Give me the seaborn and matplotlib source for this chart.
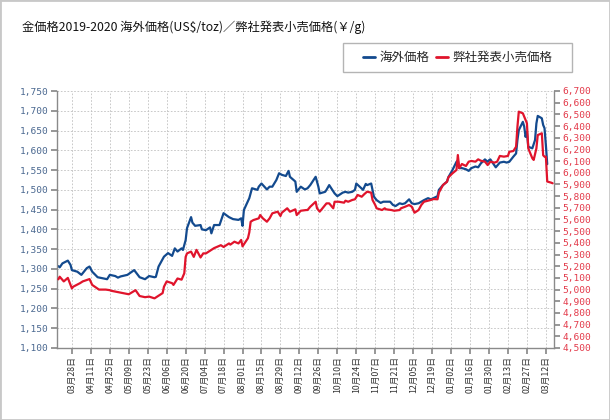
"""Gold price 2019-2020: overseas USD/toz vs. retail JPY/g on twin axes."""

import matplotlib
matplotlib.use("Agg")
import matplotlib.pyplot as plt
import pandas as pd
import seaborn as sns
from matplotlib.lines import Line2D
from matplotlib.patches import Rectangle
from matplotlib.ticker import FuncFormatter, MultipleLocator


TITLE = "金価格2019-2020 海外価格(US$/toz)／弊社発表小売価格(￥/g)"
USD_LABEL = "海外価格"
JPY_LABEL = "弊社発表小売価格"

usd_dates = [
    "2019-03-18", "2019-03-19", "2019-03-21", "2019-03-25", "2019-03-27", "2019-03-28",
    "2019-04-01", "2019-04-04", "2019-04-08", "2019-04-10", "2019-04-12", "2019-04-16",
    "2019-04-23", "2019-04-25", "2019-04-29", "2019-05-01", "2019-05-03", "2019-05-08",
    "2019-05-13", "2019-05-17", "2019-05-21", "2019-05-24", "2019-05-28", "2019-05-29",
    "2019-05-31", "2019-06-04", "2019-06-07", "2019-06-10", "2019-06-12", "2019-06-14",
    "2019-06-17", "2019-06-18", "2019-06-20", "2019-06-21", "2019-06-24", "2019-06-25",
    "2019-06-27", "2019-07-01", "2019-07-02", "2019-07-05", "2019-07-08", "2019-07-09",
    "2019-07-11", "2019-07-15", "2019-07-18", "2019-07-22", "2019-07-25", "2019-07-29",
    "2019-07-31", "2019-08-01", "2019-08-02", "2019-08-06", "2019-08-08", "2019-08-12",
    "2019-08-13", "2019-08-15", "2019-08-19", "2019-08-21", "2019-08-23", "2019-08-26",
    "2019-08-28", "2019-08-30", "2019-09-02", "2019-09-04", "2019-09-05", "2019-09-09",
    "2019-09-10", "2019-09-13", "2019-09-16", "2019-09-18", "2019-09-20", "2019-09-24",
    "2019-09-26", "2019-09-27", "2019-10-01", "2019-10-02", "2019-10-04", "2019-10-08",
    "2019-10-10", "2019-10-14", "2019-10-16", "2019-10-18", "2019-10-21", "2019-10-23",
    "2019-10-24", "2019-10-28", "2019-10-29", "2019-10-31", "2019-11-01", "2019-11-04",
    "2019-11-05", "2019-11-06", "2019-11-08", "2019-11-11", "2019-11-13", "2019-11-15",
    "2019-11-18", "2019-11-20", "2019-11-22", "2019-11-25", "2019-11-27", "2019-11-29",
    "2019-12-02", "2019-12-04", "2019-12-06", "2019-12-09", "2019-12-11", "2019-12-13",
    "2019-12-16", "2019-12-18", "2019-12-20", "2019-12-23", "2019-12-24", "2019-12-27",
    "2019-12-30", "2019-12-31", "2020-01-03", "2020-01-06", "2020-01-07", "2020-01-08",
    "2020-01-10", "2020-01-13", "2020-01-15", "2020-01-17", "2020-01-20", "2020-01-22",
    "2020-01-24", "2020-01-27", "2020-01-29", "2020-01-30", "2020-01-31", "2020-02-04",
    "2020-02-07", "2020-02-10", "2020-02-12", "2020-02-14", "2020-02-17", "2020-02-19",
    "2020-02-20", "2020-02-21", "2020-02-24", "2020-02-25", "2020-02-26", "2020-02-27",
    "2020-02-28", "2020-03-02", "2020-03-04", "2020-03-05", "2020-03-06", "2020-03-09",
    "2020-03-10", "2020-03-11", "2020-03-12", "2020-03-13",
]
usd_values = [
    1307, 1304, 1314, 1321, 1310, 1297,
    1293, 1285, 1302, 1306, 1293, 1279,
    1274, 1285, 1282, 1278, 1281, 1285,
    1297, 1279, 1274, 1282, 1279, 1280,
    1306, 1331, 1340, 1333, 1352, 1344,
    1352, 1348, 1373, 1403, 1431, 1417,
    1409, 1411, 1400, 1398, 1405, 1390,
    1411, 1411, 1441, 1431, 1426, 1424,
    1428, 1409, 1449, 1479, 1504, 1500,
    1508, 1516, 1501, 1508, 1508, 1525,
    1542, 1538, 1535, 1548, 1533, 1521,
    1495, 1508, 1501, 1504, 1512, 1533,
    1508, 1491, 1495, 1500, 1512, 1491,
    1484, 1493, 1495, 1493, 1495, 1500,
    1516, 1503, 1500, 1515, 1512, 1516,
    1500, 1483, 1474, 1467, 1470, 1470,
    1470, 1462, 1459, 1466, 1464, 1466,
    1476, 1466, 1464, 1466, 1470, 1474,
    1479, 1476, 1479, 1484, 1500, 1512,
    1521, 1532, 1550, 1571, 1574, 1555,
    1555, 1552, 1548, 1555, 1559, 1557,
    1567, 1577, 1571, 1575, 1577, 1557,
    1569, 1571, 1569, 1571, 1584, 1592,
    1626, 1651, 1672, 1660, 1634, 1647,
    1609, 1605, 1626, 1668, 1687, 1681,
    1664, 1656, 1613, 1565,
]

jpy_dates = [
    "2019-03-18", "2019-03-19", "2019-03-22", "2019-03-25", "2019-03-28", "2019-03-29",
    "2019-04-03", "2019-04-05", "2019-04-10", "2019-04-12", "2019-04-17", "2019-04-22",
    "2019-04-25", "2019-04-26", "2019-05-07", "2019-05-09", "2019-05-14", "2019-05-17",
    "2019-05-21", "2019-05-24", "2019-05-28", "2019-05-30", "2019-06-03", "2019-06-04",
    "2019-06-06", "2019-06-10", "2019-06-11", "2019-06-14", "2019-06-17", "2019-06-19",
    "2019-06-20", "2019-06-21", "2019-06-24", "2019-06-26", "2019-06-28", "2019-07-01",
    "2019-07-03", "2019-07-05", "2019-07-09", "2019-07-11", "2019-07-12", "2019-07-16",
    "2019-07-18", "2019-07-22", "2019-07-23", "2019-07-26", "2019-07-29", "2019-07-31",
    "2019-08-01", "2019-08-05", "2019-08-06", "2019-08-07", "2019-08-09", "2019-08-13",
    "2019-08-14", "2019-08-16", "2019-08-19", "2019-08-21", "2019-08-23", "2019-08-27",
    "2019-08-29", "2019-08-30", "2019-09-03", "2019-09-05", "2019-09-09", "2019-09-10",
    "2019-09-13", "2019-09-17", "2019-09-18", "2019-09-20", "2019-09-24", "2019-09-25",
    "2019-09-27", "2019-09-30", "2019-10-02", "2019-10-04", "2019-10-07", "2019-10-08",
    "2019-10-11", "2019-10-15", "2019-10-16", "2019-10-18", "2019-10-21", "2019-10-23",
    "2019-10-25", "2019-10-28", "2019-10-30", "2019-11-01", "2019-11-04", "2019-11-05",
    "2019-11-07", "2019-11-08", "2019-11-12", "2019-11-14", "2019-11-15", "2019-11-19",
    "2019-11-21", "2019-11-25", "2019-11-26", "2019-11-29", "2019-12-02", "2019-12-04",
    "2019-12-06", "2019-12-09", "2019-12-11", "2019-12-13", "2019-12-16", "2019-12-18",
    "2019-12-20", "2019-12-23", "2019-12-24", "2019-12-27", "2019-12-30", "2019-12-31",
    "2020-01-03", "2020-01-06", "2020-01-07", "2020-01-08", "2020-01-10", "2020-01-13",
    "2020-01-15", "2020-01-17", "2020-01-20", "2020-01-22", "2020-01-24", "2020-01-27",
    "2020-01-29", "2020-01-31", "2020-02-03", "2020-02-05", "2020-02-07", "2020-02-10",
    "2020-02-13", "2020-02-14", "2020-02-17", "2020-02-19", "2020-02-20", "2020-02-21",
    "2020-02-24", "2020-02-26", "2020-02-27", "2020-02-28", "2020-03-02", "2020-03-03",
    "2020-03-05", "2020-03-06", "2020-03-09", "2020-03-10", "2020-03-11", "2020-03-12",
    "2020-03-13", "2020-03-16", "2020-03-17",
]
jpy_values = [
    5088, 5110, 5070, 5100, 5010, 5025,
    5055, 5070, 5090, 5040, 5000, 5000,
    4995, 4990, 4965, 4960, 4995, 4945,
    4935, 4940, 4925, 4940, 4970, 5025,
    5070, 5055, 5040, 5095, 5085, 5140,
    5280, 5310, 5325, 5280, 5340, 5275,
    5310, 5310, 5340, 5355, 5360, 5380,
    5365, 5395, 5385, 5410, 5395, 5425,
    5370, 5440, 5490, 5581, 5595, 5610,
    5638, 5610, 5581, 5610, 5653, 5667,
    5630, 5658, 5696, 5667, 5687, 5638,
    5675, 5681, 5681, 5709, 5752, 5696,
    5667, 5709, 5738, 5738, 5696, 5752,
    5752, 5744, 5761, 5752, 5767, 5773,
    5810, 5795, 5818, 5838, 5830, 5767,
    5724, 5696, 5681, 5696, 5687, 5681,
    5675, 5681, 5696, 5709, 5724, 5709,
    5658, 5681, 5724, 5752, 5761, 5767,
    5775, 5773, 5830, 5895, 5923, 5961,
    5995, 6024, 6152, 6040, 6075, 6058,
    6095, 6101, 6095, 6115, 6103, 6095,
    6066, 6095, 6087, 6095, 6144, 6138,
    6144, 6180, 6186, 6223, 6394, 6523,
    6509, 6452, 6424, 6209, 6124, 6110,
    6209, 6323, 6338, 6150, 6138, 6138,
    5925, 5915, 5910,
]

tick_dates = pd.date_range("2019-03-28", "2020-03-12", freq="14D")

BLUE = "#134a8e"
RED = "#e0142c"


def main() -> None:
    sns.set_theme(style="white")
    plt.rcParams["font.family"] = ["Noto Sans CJK JP", "DejaVu Sans"]

    usd = pd.DataFrame({"date": pd.to_datetime(usd_dates), "price": usd_values})
    jpy = pd.DataFrame({"date": pd.to_datetime(jpy_dates), "price": jpy_values})

    fig = plt.figure(figsize=(6.1, 4.2), dpi=100)
    ax = fig.add_axes([57 / 610, 1 - 348 / 420, 497 / 610, 257 / 420])
    ax2 = ax.twinx()

    sns.lineplot(data=usd, x="date", y="price", ax=ax, color=BLUE, linewidth=1.6)
    sns.lineplot(data=jpy, x="date", y="price", ax=ax2, color=RED, linewidth=1.6)

    ax.set_xlim(pd.Timestamp("2019-03-17"), pd.Timestamp("2020-03-18"))
    ax.set_ylim(1100, 1750)
    ax2.set_ylim(4500, 6700)
    ax.yaxis.set_major_locator(MultipleLocator(50))
    ax2.yaxis.set_major_locator(MultipleLocator(100))
    comma = FuncFormatter(lambda v, _: f"{v:,.0f}")
    ax.yaxis.set_major_formatter(comma)
    ax2.yaxis.set_major_formatter(comma)
    ax.set_xticks(tick_dates)
    ax.set_xticklabels([f"{d.month:02d}月{d.day:02d}日" for d in tick_dates])
    ax.set(xlabel="", ylabel="")
    ax2.set_ylabel("")

    ax.grid(True, color="#c0c0c0", linestyle=(0, (2, 2)), linewidth=0.6)
    ax2.grid(False)

    for a in (ax, ax2):
        for side in ("top", "left", "right", "bottom"):
            a.spines[side].set_visible(False)
    ax.spines["left"].set_visible(True)
    ax.spines["bottom"].set_visible(True)
    ax2.spines["right"].set_visible(True)
    for sp in (ax.spines["left"], ax.spines["bottom"], ax2.spines["right"]):
        sp.set_color("#8a8a8a")
        sp.set_linewidth(1.0)

    ax.tick_params(axis="y", left=True, direction="out", length=4, color="#8a8a8a",
                   labelsize=6.8, labelcolor="#4a6890", pad=2,
                   labelfontfamily="DejaVu Sans Mono")
    ax.tick_params(axis="x", bottom=True, direction="out", length=4, color="#8a8a8a",
                   labelsize=6.3, labelcolor="#333333", pad=2, rotation=90)
    ax2.tick_params(axis="y", right=True, direction="out", length=4, color="#8a8a8a",
                    labelsize=6.8, labelcolor="#e33a4a", pad=2,
                    labelfontfamily="DejaVu Sans Mono")

    fig.text(22 / 610, 1 - 27 / 420, TITLE, fontsize=8.8, va="center", ha="left",
             color="#111111")

    # legend box
    fig.add_artist(Rectangle((343 / 610, 1 - 72 / 420), 229 / 610, 29 / 420,
                             transform=fig.transFigure, fill=False,
                             edgecolor="#b4b4b4", linewidth=1.0))
    handles = [Line2D([], [], color=BLUE, linewidth=2),
               Line2D([], [], color=RED, linewidth=2)]
    fig.legend(handles, [USD_LABEL, JPY_LABEL], loc="center",
               bbox_to_anchor=(457.5 / 610, 1 - 57.5 / 420), ncol=2, frameon=False,
               fontsize=9, handlelength=1.0, handletextpad=0.35, columnspacing=0.5)

    fig.add_artist(Rectangle((0, 0), 1, 1, transform=fig.transFigure, fill=False,
                             edgecolor="#c8c8c8", linewidth=2.0))

    fig.savefig("out.png", dpi=100, facecolor="white")
    plt.close(fig)


if __name__ == "__main__":
    main()
